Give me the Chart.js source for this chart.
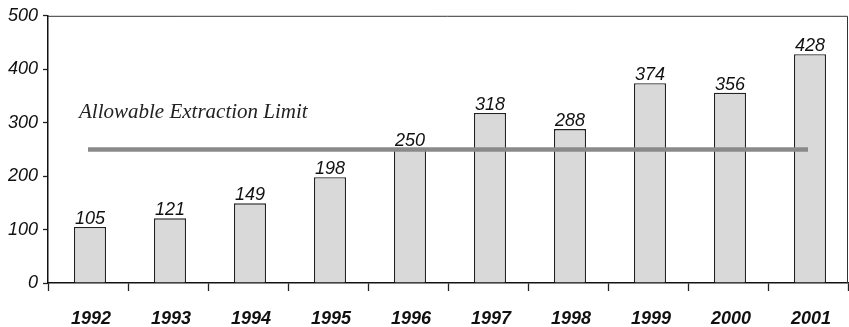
<!DOCTYPE html>
<html>
<head>
<meta charset="utf-8">
<script src="https://cdn.jsdelivr.net/npm/chart.js@4"></script>
<style>
  html, body { margin: 0; padding: 0; background: #fff; }
  #wrap { width: 849px; height: 327px; }
</style>
</head>
<body>
<div id="wrap"><canvas id="c"></canvas></div>
<script>
// Annual extraction by year, with the allowable limit
const years = ['1992', '1993', '1994', '1995', '1996', '1997', '1998', '1999', '2000', '2001'];
const extraction = [105, 121, 149, 198, 250, 318, 288, 374, 356, 428];
const limitValue = 250;
const limitLabel = 'Allowable Extraction Limit';
const yTicks = [0, 100, 200, 300, 400, 500];

const limitLine = years.map(() => limitValue);

// bars sit slightly right of the category centres
const BAR_SHIFT = 2;

const barShift = {
  id: 'barShift',
  beforeDatasetDraw(chart, args) {
    if (args.index === 1) {
      chart.ctx.save();
      chart.ctx.translate(BAR_SHIFT, 0);
    }
  },
  afterDatasetDraw(chart, args) {
    if (args.index === 1) chart.ctx.restore();
  }
};

// Draws the plot frame, the value labels and the limit caption
const decorations = {
  id: 'decorations',
  afterDatasetsDraw(chart) {
    const { ctx, chartArea: a, scales } = chart;
    ctx.save();
    // top and right frame
    ctx.strokeStyle = '#333';
    ctx.lineWidth = 1;
    ctx.beginPath();
    ctx.moveTo(a.left, a.top + 0.5);
    ctx.lineTo(a.right - 0.5, a.top + 0.5);
    ctx.lineTo(a.right - 0.5, a.bottom);
    ctx.stroke();

    // values above the bars
    const meta = chart.getDatasetMeta(1);
    ctx.fillStyle = '#111';
    ctx.font = 'italic 18px "Liberation Sans", Arial, sans-serif';
    ctx.textAlign = 'center';
    ctx.textBaseline = 'alphabetic';
    meta.data.forEach((bar, i) => {
      ctx.fillText(String(extraction[i]), bar.x + BAR_SHIFT, bar.y - 3);
    });

    // limit caption
    ctx.font = 'italic 21px "Liberation Serif", "Times New Roman", serif';
    ctx.textAlign = 'left';
    ctx.fillStyle = '#222';
    ctx.fillText(limitLabel, 79, scales.y.getPixelForValue(limitValue) - 31);
    ctx.restore();
  }
};

new Chart(document.getElementById('c'), {
  data: {
    labels: years,
    datasets: [
      {
        type: 'line',
        data: limitLine,
        borderColor: '#8a8a8a',
        borderWidth: 4.5,
        pointRadius: 0,
        order: 0
      },
      {
        type: 'bar',
        data: extraction,
        backgroundColor: '#d9d9d9',
        borderColor: '#222',
        borderWidth: 1.3,
        barPercentage: 0.4,
        categoryPercentage: 1,
        order: 1
      }
    ]
  },
  options: {
    responsive: true,
    maintainAspectRatio: false,
    animation: false,
    layout: { padding: { top: 11, right: 1, left: 0, bottom: 0 } },
    plugins: { legend: { display: false }, tooltip: { enabled: false } },
    scales: {
      x: {
        offset: true,
        grid: {
          offset: true,
          drawOnChartArea: false,
          drawTicks: true,
          tickLength: 8,
          color: '#222',
          tickWidth: 1.3
        },
        border: { color: '#111', width: 1.5 },
        ticks: {
          color: '#111',
          padding: 17,
          labelOffset: 3,
          font: { family: '"Liberation Sans", Arial, sans-serif', size: 18, style: 'italic', weight: 'bold' },
          maxRotation: 0
        },
        afterFit(s) { s.height = 44; }
      },
      y: {
        min: 0,
        max: 500,
        afterBuildTicks(s) { s.ticks = yTicks.map(v => ({ value: v })); },
        grid: {
          drawOnChartArea: false,
          drawTicks: true,
          tickLength: 5,
          color: '#222',
          tickWidth: 1.3
        },
        border: { color: '#111', width: 1.5 },
        ticks: {
          color: '#111',
          padding: 5,
          font: { family: '"Liberation Sans", Arial, sans-serif', size: 18, style: 'italic' }
        },
        afterFit(s) { s.width = 48; }
      }
    }
  },
  plugins: [barShift, decorations]
});
</script>
</body>
</html>
